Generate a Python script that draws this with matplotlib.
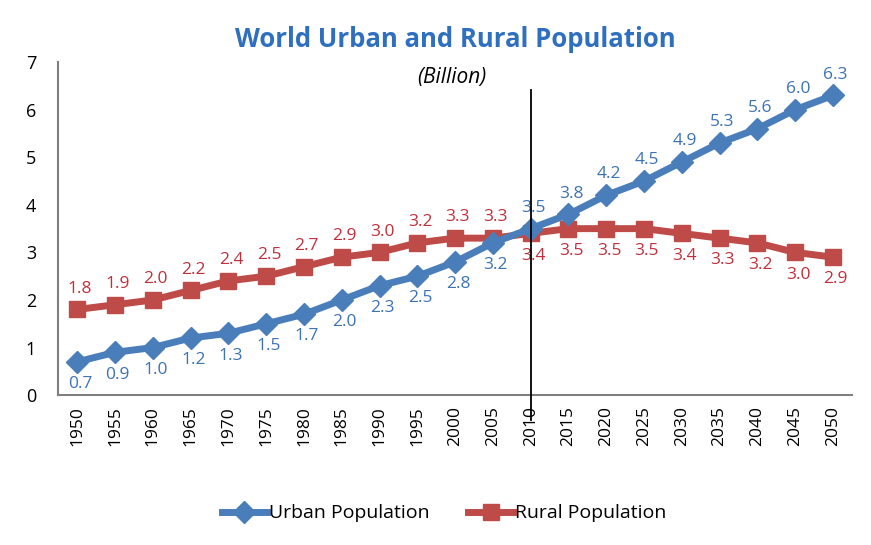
import matplotlib.pyplot as plt
import numpy as np

years = ['1950', '1955', '1960', '1965', '1970', '1975', '1980', '1985', '1990', '1995', '2000',
         '2005', '2010', '2015', '2020', '2025', '2030', '2035', '2040', '2045', '2050']
urban = [0.7, 0.9, 1.0, 1.2, 1.3, 1.5, 1.7, 2.0, 2.3, 2.5, 2.8,
         3.2, 3.5, 3.8, 4.2, 4.5, 4.9, 5.3, 5.6, 6.0, 6.3]
rural = [1.8, 1.9, 2.0, 2.2, 2.4, 2.5, 2.7, 2.9, 3.0, 3.2, 3.3,
         3.3, 3.4, 3.5, 3.5, 3.5, 3.4, 3.3, 3.2, 3.0, 2.9]

blue = '#4a7ebb'
red = '#be4b48'
blue_txt = '#3d72b4'
red_txt = '#c0303c'

plt.rcParams['font.family'] = ['Open Sans', 'DejaVu Sans']

fig = plt.figure(figsize=(8.71, 5.45), dpi=100)
ax = fig.add_axes([0.067, 0.275, 0.911, 0.611])

x = np.arange(len(years))
ax.plot(x, urban, color=blue, lw=5, marker='D', ms=11, label='Urban Population', zorder=3)
ax.plot(x, rural, color=red, lw=5, marker='s', ms=11, label='Rural Population', zorder=2)

# data labels: before 2010 urban below / rural above, after that swapped
split = years.index('2010')
for i in range(len(years)):
    if i < split:
        uo, ro = -16, 15
    else:
        uo, ro = 15, -16
    ax.annotate(f'{urban[i]:.1f}', (x[i], urban[i]), xytext=(2, uo), textcoords='offset points',
                ha='center', va='center', fontsize=12.5, color=blue_txt)
    ax.annotate(f'{rural[i]:.1f}', (x[i], rural[i]), xytext=(2, ro), textcoords='offset points',
                ha='center', va='center', fontsize=12.5, color=red_txt)

ax.axvline(split, ymin=-0.075, ymax=0.915, color='black', lw=1.3, clip_on=False, zorder=4)

ax.set_xlim(-0.5, len(years) - 0.5)
ax.set_ylim(0, 7)
ax.set_yticks(range(8))
ax.set_xticks(x)
ax.set_xticklabels(years, rotation=90, fontsize=12.5)
ax.tick_params(axis='y', labelsize=13, length=0, pad=16)
ax.tick_params(axis='x', length=0, pad=8)
for s in ['top', 'right']:
    ax.spines[s].set_visible(False)
ax.spines['left'].set_color('#808080')
ax.spines['bottom'].set_color('#808080')
ax.spines['left'].set_linewidth(1.5)
ax.spines['bottom'].set_linewidth(1.5)

fig.text(0.523, 0.927, 'World Urban and Rural Population', ha='center', va='center',
         fontsize=18.5, fontweight='bold', color='#2f6fc0')
fig.text(0.519, 0.857, '(Billion)', ha='center', va='center', fontsize=15, style='italic')

fig.legend(loc='center', bbox_to_anchor=(0.51, 0.058), ncol=2, frameon=False, fontsize=14,
           handlelength=2.3, columnspacing=2.0, handletextpad=0.1)

fig.savefig('out.png', dpi=100)
